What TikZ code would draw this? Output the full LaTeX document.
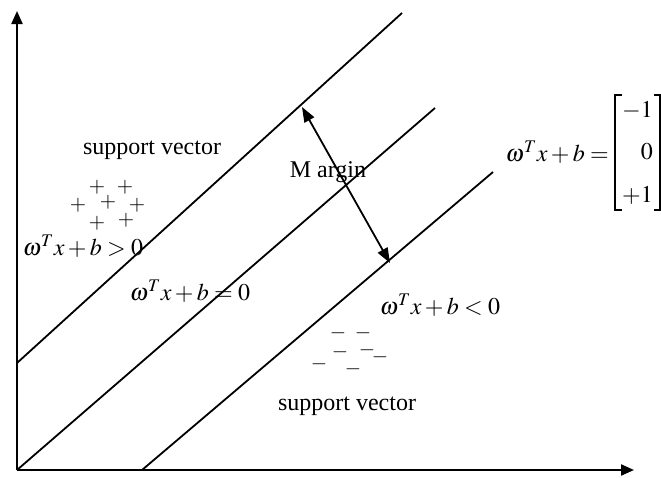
\documentclass[tikz,border=0pt]{standalone}
\usepackage{amsmath}
\usepackage{mathptmx}
\usepackage[no-math]{fontspec}
\setmainfont{Liberation Serif}
\usetikzlibrary{arrows.meta}

\begin{document}
\begin{tikzpicture}[x=1pt,y=-1pt,
  axis/.style={line width=2.2pt,-{Triangle[length=13pt,width=11pt]}},
  hplane/.style={line width=1.8pt},
  lbl/.style={font=\fontsize{24}{28}\selectfont,inner sep=0pt},
  sgn/.style={font=\fontsize{21}{24}\selectfont,inner sep=0pt},
  brkt/.style={line width=1.1pt}]
\useasboundingbox (0,0) rectangle (661,477);
\clip (0,0) rectangle (661,477);
% axes
\coordinate (O) at (17,470);
\coordinate (xend) at (634,470);
\coordinate (yend) at (17,11);
\draw[axis] (O) -- (xend);
\draw[axis] (O) -- (yend);
% the three lines
\coordinate (p1a) at (17,363);
\coordinate (p1b) at (402,13);
\coordinate (p2b) at (435,108);
\coordinate (p3a) at (142,470);
\coordinate (p3b) at (493,172);
\draw[hplane] (p1a) -- (p1b);
\draw[hplane] (O) -- (p2b);
\draw[hplane] (p3a) -- (p3b);
% margin arrow
\coordinate (m1) at (302,107);
\coordinate (m2) at (390,263);
\draw[line width=1.8pt,{Triangle[length=15pt,width=11pt]}-{Triangle[length=15pt,width=11pt]}] (m1) -- (m2);
\node[lbl] (margin) at (328,172) {M argin};
% labels
\node[lbl] (sv1) at (152,150) {support vector};
\node[lbl] (sv2) at (347,406) {support vector};
\node[lbl] (gtz) at (83,246) {$\omega^T x+b>0$};
\node[lbl] (eqz) at (190,291) {$\omega^T x+b=0$};
\node[lbl] (ltz) at (440,305) {$\omega^T x+b<0$};
% right hand equation with its column
\node[lbl,anchor=east] (hyp) at (609,152) {$\omega^T x+b=$};
\node[lbl,anchor=east] (vm) at (653,110) {$-1$};
\node[lbl,anchor=east] (v0) at (653,152) {$0$};
\node[lbl,anchor=east] (vp) at (653,195) {$+1$};
\draw[brkt] (622,95) -- (615,95) -- (615,210) -- (622,210);
\draw[brkt] (654,95) -- (660,95) -- (660,210) -- (654,210);
% samples
\foreach \x/\y [count=\i] in {97/187,125/187,78/205,108/202,137/205,97/223,126/220}
  \node[sgn] (plus\i) at (\x,\y) {$+$};
\foreach \x/\y [count=\i] in {338/333,363/333,340/352,367/350,380/357,319/364,353/369}
  \node[sgn] (minus\i) at (\x,\y) {$-$};
\end{tikzpicture}
\end{document}
